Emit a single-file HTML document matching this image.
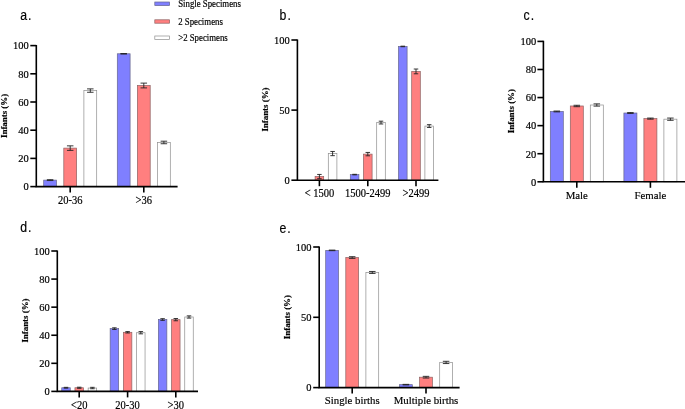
<!DOCTYPE html>
<html><head><meta charset="utf-8"><style>
html,body{margin:0;padding:0;background:#fff;}
body{width:685px;height:409px;overflow:hidden;}
svg{display:block;will-change:transform;}
text{font-family:"Liberation Serif",serif;fill:#000;stroke:#000;stroke-width:0.18px;}
.yt{font-size:10px;text-anchor:end;}
.xt{font-size:10.5px;text-anchor:middle;}
.yl{font-size:8.9px;font-weight:bold;}
.lg{font-size:8.8px;}
.pl{font-family:"Liberation Sans",sans-serif;font-size:15px;fill:#000;letter-spacing:1.3px;}
</style></head><body>
<svg width="685" height="409" viewBox="0 0 685 409">
<rect x="43.70" y="180.11" width="12.80" height="6.49" fill="#7f7fff" stroke="#66668c" stroke-width="0.7"/>
<rect x="63.80" y="148.11" width="12.80" height="38.49" fill="#ff7f7f" stroke="#8c6262" stroke-width="0.7"/>
<rect x="83.90" y="90.58" width="12.80" height="96.02" fill="#ffffff" stroke="#8e8e8e" stroke-width="0.7"/>
<rect x="117.30" y="53.78" width="12.80" height="132.82" fill="#7f7fff" stroke="#66668c" stroke-width="0.7"/>
<rect x="137.40" y="85.50" width="12.80" height="101.10" fill="#ff7f7f" stroke="#8c6262" stroke-width="0.7"/>
<rect x="157.50" y="142.47" width="12.80" height="44.13" fill="#ffffff" stroke="#8e8e8e" stroke-width="0.7"/>
<path d="M36.30 45.00V186.60H177.60" fill="none" stroke="#000" stroke-width="1.6" stroke-linejoin="miter"/>
<line x1="30.299999999999997" y1="186.60" x2="36.3" y2="186.60" stroke="#000" stroke-width="1.6"/>
<text transform="translate(28.70,190.40) scale(1.05,1.12)" class="yt">0</text>
<line x1="30.299999999999997" y1="158.40" x2="36.3" y2="158.40" stroke="#000" stroke-width="1.6"/>
<text transform="translate(28.70,162.20) scale(1.05,1.12)" class="yt">20</text>
<line x1="30.299999999999997" y1="130.20" x2="36.3" y2="130.20" stroke="#000" stroke-width="1.6"/>
<text transform="translate(28.70,134.00) scale(1.05,1.12)" class="yt">40</text>
<line x1="30.299999999999997" y1="102.00" x2="36.3" y2="102.00" stroke="#000" stroke-width="1.6"/>
<text transform="translate(28.70,105.80) scale(1.05,1.12)" class="yt">60</text>
<line x1="30.299999999999997" y1="73.80" x2="36.3" y2="73.80" stroke="#000" stroke-width="1.6"/>
<text transform="translate(28.70,77.60) scale(1.05,1.12)" class="yt">80</text>
<line x1="30.299999999999997" y1="45.60" x2="36.3" y2="45.60" stroke="#000" stroke-width="1.6"/>
<text transform="translate(28.70,49.40) scale(1.05,1.12)" class="yt">100</text>
<text transform="translate(7.0,138) rotate(-90)" class="yl">Infants (%)</text>
<line x1="70.2" y1="186.6" x2="70.2" y2="192.6" stroke="#000" stroke-width="1.6"/>
<text transform="translate(70.2,204.10) scale(1.0,1.14)" class="xt">20-36</text>
<line x1="143.8" y1="186.6" x2="143.8" y2="192.6" stroke="#000" stroke-width="1.6"/>
<text transform="translate(143.8,204.10) scale(1.0,1.14)" class="xt">&gt;36</text>
<path d="M50.10 179.69V180.54M46.85 179.69H53.35M46.85 180.54H53.35" stroke="#222" stroke-width="0.9" fill="none"/>
<path d="M70.20 145.85V150.36M66.95 145.85H73.45M66.95 150.36H73.45" stroke="#222" stroke-width="0.9" fill="none"/>
<path d="M90.30 88.89V92.27M87.05 88.89H93.55M87.05 92.27H93.55" stroke="#222" stroke-width="0.9" fill="none"/>
<path d="M123.70 53.50V54.06M120.45 53.50H126.95M120.45 54.06H126.95" stroke="#222" stroke-width="0.9" fill="none"/>
<path d="M143.80 83.11V87.90M140.55 83.11H147.05M140.55 87.90H147.05" stroke="#222" stroke-width="0.9" fill="none"/>
<path d="M163.90 141.20V143.74M160.65 141.20H167.15M160.65 143.74H167.15" stroke="#222" stroke-width="0.9" fill="none"/>
<text transform="translate(20.2,20) scale(0.82,0.93)" class="pl">a.</text>
<rect x="315.10" y="176.55" width="8.60" height="3.65" fill="#ff7f7f" stroke="#8c6262" stroke-width="0.7"/>
<rect x="328.30" y="153.56" width="8.60" height="26.64" fill="#ffffff" stroke="#8e8e8e" stroke-width="0.7"/>
<rect x="350.30" y="174.59" width="8.60" height="5.61" fill="#7f7fff" stroke="#66668c" stroke-width="0.7"/>
<rect x="363.50" y="154.12" width="8.60" height="26.08" fill="#ff7f7f" stroke="#8c6262" stroke-width="0.7"/>
<rect x="376.70" y="122.58" width="8.60" height="57.62" fill="#ffffff" stroke="#8e8e8e" stroke-width="0.7"/>
<rect x="398.50" y="46.45" width="8.60" height="133.75" fill="#7f7fff" stroke="#66668c" stroke-width="0.7"/>
<rect x="411.70" y="71.40" width="8.60" height="108.80" fill="#ff7f7f" stroke="#8c6262" stroke-width="0.7"/>
<rect x="424.90" y="126.08" width="8.60" height="54.12" fill="#ffffff" stroke="#8e8e8e" stroke-width="0.7"/>
<path d="M297.40 39.40V180.20H438.40" fill="none" stroke="#000" stroke-width="1.6" stroke-linejoin="miter"/>
<line x1="291.4" y1="180.20" x2="297.4" y2="180.20" stroke="#000" stroke-width="1.6"/>
<text transform="translate(289.80,184.00) scale(1.05,1.12)" class="yt">0</text>
<line x1="291.4" y1="110.10" x2="297.4" y2="110.10" stroke="#000" stroke-width="1.6"/>
<text transform="translate(289.80,113.90) scale(1.05,1.12)" class="yt">50</text>
<line x1="291.4" y1="40.00" x2="297.4" y2="40.00" stroke="#000" stroke-width="1.6"/>
<text transform="translate(289.80,43.80) scale(1.05,1.12)" class="yt">100</text>
<text transform="translate(268.4,131.6) rotate(-90)" class="yl">Infants (%)</text>
<line x1="319.4" y1="180.2" x2="319.4" y2="186.2" stroke="#000" stroke-width="1.6"/>
<text transform="translate(319.4,197.40) scale(1.0,1.14)" class="xt">&lt; 1500</text>
<line x1="367.8" y1="180.2" x2="367.8" y2="186.2" stroke="#000" stroke-width="1.6"/>
<text transform="translate(367.8,197.40) scale(1.0,1.14)" class="xt">1500-2499</text>
<line x1="416.0" y1="180.2" x2="416.0" y2="186.2" stroke="#000" stroke-width="1.6"/>
<text transform="translate(416.0,197.40) scale(1.0,1.14)" class="xt">&gt;2499</text>
<path d="M319.40 174.45V178.66M317.15 174.45H321.65M317.15 178.66H321.65" stroke="#222" stroke-width="0.9" fill="none"/>
<path d="M332.60 151.46V155.66M330.35 151.46H334.85M330.35 155.66H334.85" stroke="#222" stroke-width="0.9" fill="none"/>
<path d="M354.60 174.31V174.87M352.35 174.31H356.85M352.35 174.87H356.85" stroke="#222" stroke-width="0.9" fill="none"/>
<path d="M367.80 152.44V155.81M365.55 152.44H370.05M365.55 155.81H370.05" stroke="#222" stroke-width="0.9" fill="none"/>
<path d="M381.00 121.18V123.98M378.75 121.18H383.25M378.75 123.98H383.25" stroke="#222" stroke-width="0.9" fill="none"/>
<path d="M402.80 46.17V46.73M400.55 46.17H405.05M400.55 46.73H405.05" stroke="#222" stroke-width="0.9" fill="none"/>
<path d="M416.00 69.02V73.79M413.75 69.02H418.25M413.75 73.79H418.25" stroke="#222" stroke-width="0.9" fill="none"/>
<path d="M429.20 124.68V127.48M426.95 124.68H431.45M426.95 127.48H431.45" stroke="#222" stroke-width="0.9" fill="none"/>
<text transform="translate(279.6,20) scale(0.82,0.93)" class="pl">b.</text>
<rect x="550.30" y="111.46" width="13.00" height="70.34" fill="#7f7fff" stroke="#66668c" stroke-width="0.7"/>
<rect x="570.30" y="105.98" width="13.00" height="75.82" fill="#ff7f7f" stroke="#8c6262" stroke-width="0.7"/>
<rect x="590.30" y="105.00" width="13.00" height="76.80" fill="#ffffff" stroke="#8e8e8e" stroke-width="0.7"/>
<rect x="623.90" y="113.00" width="13.00" height="68.80" fill="#7f7fff" stroke="#66668c" stroke-width="0.7"/>
<rect x="643.90" y="118.62" width="13.00" height="63.18" fill="#ff7f7f" stroke="#8c6262" stroke-width="0.7"/>
<rect x="663.90" y="119.18" width="13.00" height="62.62" fill="#ffffff" stroke="#8e8e8e" stroke-width="0.7"/>
<path d="M543.40 40.80V181.80H685.00" fill="none" stroke="#000" stroke-width="1.6" stroke-linejoin="miter"/>
<line x1="537.4" y1="181.80" x2="543.4" y2="181.80" stroke="#000" stroke-width="1.6"/>
<text transform="translate(536.30,185.60) scale(1.05,1.12)" class="yt">0</text>
<line x1="537.4" y1="153.72" x2="543.4" y2="153.72" stroke="#000" stroke-width="1.6"/>
<text transform="translate(536.30,157.52) scale(1.05,1.12)" class="yt">20</text>
<line x1="537.4" y1="125.64" x2="543.4" y2="125.64" stroke="#000" stroke-width="1.6"/>
<text transform="translate(536.30,129.44) scale(1.05,1.12)" class="yt">40</text>
<line x1="537.4" y1="97.56" x2="543.4" y2="97.56" stroke="#000" stroke-width="1.6"/>
<text transform="translate(536.30,101.36) scale(1.05,1.12)" class="yt">60</text>
<line x1="537.4" y1="69.48" x2="543.4" y2="69.48" stroke="#000" stroke-width="1.6"/>
<text transform="translate(536.30,73.28) scale(1.05,1.12)" class="yt">80</text>
<line x1="537.4" y1="41.40" x2="543.4" y2="41.40" stroke="#000" stroke-width="1.6"/>
<text transform="translate(536.30,45.20) scale(1.05,1.12)" class="yt">100</text>
<text transform="translate(514.0,133.2) rotate(-90)" class="yl">Infants (%)</text>
<line x1="576.8" y1="181.8" x2="576.8" y2="187.8" stroke="#000" stroke-width="1.6"/>
<text x="576.8" y="198.70" class="xt" style="font-size:10.8px">Male</text>
<line x1="650.4" y1="181.8" x2="650.4" y2="187.8" stroke="#000" stroke-width="1.6"/>
<text x="650.4" y="198.70" class="xt" style="font-size:10.8px">Female</text>
<path d="M556.80 111.04V111.88M553.55 111.04H560.05M553.55 111.88H560.05" stroke="#222" stroke-width="0.9" fill="none"/>
<path d="M576.80 105.28V106.69M573.55 105.28H580.05M573.55 106.69H580.05" stroke="#222" stroke-width="0.9" fill="none"/>
<path d="M596.80 103.88V106.12M593.55 103.88H600.05M593.55 106.12H600.05" stroke="#222" stroke-width="0.9" fill="none"/>
<path d="M630.40 112.58V113.43M627.15 112.58H633.65M627.15 113.43H633.65" stroke="#222" stroke-width="0.9" fill="none"/>
<path d="M650.40 118.06V119.18M647.15 118.06H653.65M647.15 119.18H653.65" stroke="#222" stroke-width="0.9" fill="none"/>
<path d="M670.40 118.06V120.30M667.15 118.06H673.65M667.15 120.30H673.65" stroke="#222" stroke-width="0.9" fill="none"/>
<text transform="translate(523.6,20) scale(0.82,0.93)" class="pl">c.</text>
<rect x="61.75" y="387.75" width="8.50" height="3.65" fill="#7f7fff" stroke="#66668c" stroke-width="0.7"/>
<rect x="74.95" y="387.75" width="8.50" height="3.65" fill="#ff7f7f" stroke="#8c6262" stroke-width="0.7"/>
<rect x="88.15" y="388.03" width="8.50" height="3.37" fill="#ffffff" stroke="#8e8e8e" stroke-width="0.7"/>
<rect x="110.15" y="328.64" width="8.50" height="62.76" fill="#7f7fff" stroke="#66668c" stroke-width="0.7"/>
<rect x="123.35" y="332.29" width="8.50" height="59.11" fill="#ff7f7f" stroke="#8c6262" stroke-width="0.7"/>
<rect x="136.55" y="332.71" width="8.50" height="58.69" fill="#ffffff" stroke="#8e8e8e" stroke-width="0.7"/>
<rect x="158.35" y="319.52" width="8.50" height="71.88" fill="#7f7fff" stroke="#66668c" stroke-width="0.7"/>
<rect x="171.55" y="319.66" width="8.50" height="71.74" fill="#ff7f7f" stroke="#8c6262" stroke-width="0.7"/>
<rect x="184.75" y="316.99" width="8.50" height="74.41" fill="#ffffff" stroke="#8e8e8e" stroke-width="0.7"/>
<path d="M57.30 250.40V391.40H198.00" fill="none" stroke="#000" stroke-width="1.6" stroke-linejoin="miter"/>
<line x1="51.3" y1="391.40" x2="57.3" y2="391.40" stroke="#000" stroke-width="1.6"/>
<text transform="translate(49.70,395.20) scale(1.05,1.12)" class="yt">0</text>
<line x1="51.3" y1="363.32" x2="57.3" y2="363.32" stroke="#000" stroke-width="1.6"/>
<text transform="translate(49.70,367.12) scale(1.05,1.12)" class="yt">20</text>
<line x1="51.3" y1="335.24" x2="57.3" y2="335.24" stroke="#000" stroke-width="1.6"/>
<text transform="translate(49.70,339.04) scale(1.05,1.12)" class="yt">40</text>
<line x1="51.3" y1="307.16" x2="57.3" y2="307.16" stroke="#000" stroke-width="1.6"/>
<text transform="translate(49.70,310.96) scale(1.05,1.12)" class="yt">60</text>
<line x1="51.3" y1="279.08" x2="57.3" y2="279.08" stroke="#000" stroke-width="1.6"/>
<text transform="translate(49.70,282.88) scale(1.05,1.12)" class="yt">80</text>
<line x1="51.3" y1="251.00" x2="57.3" y2="251.00" stroke="#000" stroke-width="1.6"/>
<text transform="translate(49.70,254.80) scale(1.05,1.12)" class="yt">100</text>
<text transform="translate(28.2,342.6) rotate(-90)" class="yl">Infants (%)</text>
<line x1="79.2" y1="391.4" x2="79.2" y2="397.4" stroke="#000" stroke-width="1.6"/>
<text transform="translate(79.2,409.10) scale(1.0,1.14)" class="xt">&lt;20</text>
<line x1="127.6" y1="391.4" x2="127.6" y2="397.4" stroke="#000" stroke-width="1.6"/>
<text transform="translate(127.6,409.10) scale(1.0,1.14)" class="xt">20-30</text>
<line x1="175.8" y1="391.4" x2="175.8" y2="397.4" stroke="#000" stroke-width="1.6"/>
<text transform="translate(175.8,409.10) scale(1.0,1.14)" class="xt">&gt;30</text>
<path d="M66.00 387.33V388.17M63.75 387.33H68.25M63.75 388.17H68.25" stroke="#222" stroke-width="0.9" fill="none"/>
<path d="M79.20 387.19V388.31M76.95 387.19H81.45M76.95 388.31H81.45" stroke="#222" stroke-width="0.9" fill="none"/>
<path d="M92.40 387.33V388.73M90.15 387.33H94.65M90.15 388.73H94.65" stroke="#222" stroke-width="0.9" fill="none"/>
<path d="M114.40 327.80V329.48M112.15 327.80H116.65M112.15 329.48H116.65" stroke="#222" stroke-width="0.9" fill="none"/>
<path d="M127.60 331.59V332.99M125.35 331.59H129.85M125.35 332.99H129.85" stroke="#222" stroke-width="0.9" fill="none"/>
<path d="M140.80 331.59V333.84M138.55 331.59H143.05M138.55 333.84H143.05" stroke="#222" stroke-width="0.9" fill="none"/>
<path d="M162.60 318.67V320.36M160.35 318.67H164.85M160.35 320.36H164.85" stroke="#222" stroke-width="0.9" fill="none"/>
<path d="M175.80 318.53V320.78M173.55 318.53H178.05M173.55 320.78H178.05" stroke="#222" stroke-width="0.9" fill="none"/>
<path d="M189.00 315.86V318.11M186.75 315.86H191.25M186.75 318.11H191.25" stroke="#222" stroke-width="0.9" fill="none"/>
<text transform="translate(20.2,232) scale(0.82,0.93)" class="pl">d.</text>
<rect x="325.70" y="250.37" width="12.80" height="137.23" fill="#7f7fff" stroke="#66668c" stroke-width="0.7"/>
<rect x="345.80" y="257.55" width="12.80" height="130.06" fill="#ff7f7f" stroke="#8c6262" stroke-width="0.7"/>
<rect x="365.90" y="272.45" width="12.80" height="115.15" fill="#ffffff" stroke="#8e8e8e" stroke-width="0.7"/>
<rect x="399.50" y="384.65" width="12.80" height="2.95" fill="#7f7fff" stroke="#66668c" stroke-width="0.7"/>
<rect x="419.60" y="377.20" width="12.80" height="10.40" fill="#ff7f7f" stroke="#8c6262" stroke-width="0.7"/>
<rect x="439.70" y="362.43" width="12.80" height="25.17" fill="#ffffff" stroke="#8e8e8e" stroke-width="0.7"/>
<path d="M319.20 246.40V387.60H459.60" fill="none" stroke="#000" stroke-width="1.6" stroke-linejoin="miter"/>
<line x1="313.2" y1="387.60" x2="319.2" y2="387.60" stroke="#000" stroke-width="1.6"/>
<text transform="translate(311.60,391.40) scale(1.05,1.12)" class="yt">0</text>
<line x1="313.2" y1="317.30" x2="319.2" y2="317.30" stroke="#000" stroke-width="1.6"/>
<text transform="translate(311.60,321.10) scale(1.05,1.12)" class="yt">50</text>
<line x1="313.2" y1="247.00" x2="319.2" y2="247.00" stroke="#000" stroke-width="1.6"/>
<text transform="translate(311.60,250.80) scale(1.05,1.12)" class="yt">100</text>
<text transform="translate(290.2,339.2) rotate(-90)" class="yl">Infants (%)</text>
<line x1="352.2" y1="387.6" x2="352.2" y2="393.6" stroke="#000" stroke-width="1.6"/>
<text x="352.2" y="404.00" class="xt" style="font-size:10.8px">Single births</text>
<line x1="426.0" y1="387.6" x2="426.0" y2="393.6" stroke="#000" stroke-width="1.6"/>
<text x="426.0" y="404.00" class="xt" style="font-size:10.8px">Multiple births</text>
<path d="M332.10 250.09V250.66M328.85 250.09H335.35M328.85 250.66H335.35" stroke="#222" stroke-width="0.9" fill="none"/>
<path d="M352.20 256.70V258.39M348.95 256.70H355.45M348.95 258.39H355.45" stroke="#222" stroke-width="0.9" fill="none"/>
<path d="M372.30 271.46V273.43M369.05 271.46H375.55M369.05 273.43H375.55" stroke="#222" stroke-width="0.9" fill="none"/>
<path d="M405.90 384.37V384.93M402.65 384.37H409.15M402.65 384.93H409.15" stroke="#222" stroke-width="0.9" fill="none"/>
<path d="M426.00 376.35V378.04M422.75 376.35H429.25M422.75 378.04H429.25" stroke="#222" stroke-width="0.9" fill="none"/>
<path d="M446.10 361.31V363.56M442.85 361.31H449.35M442.85 363.56H449.35" stroke="#222" stroke-width="0.9" fill="none"/>
<text transform="translate(279.4,232.5) scale(0.82,0.93)" class="pl">e.</text>
<rect x="154.8" y="2.0" width="14.8" height="3.6" fill="#7f7fff" stroke="#66668c" stroke-width="0.7"/>
<text transform="translate(178.2,7.0) scale(1,1.08)" class="lg">Single Specimens</text>
<rect x="154.8" y="19.8" width="14.8" height="3.4" fill="#ff7f7f" stroke="#8c6262" stroke-width="0.7"/>
<text transform="translate(178.2,24.5) scale(1,1.08)" class="lg">2 Specimens</text>
<rect x="154.8" y="36.0" width="14.8" height="3.6" fill="#ffffff" stroke="#8e8e8e" stroke-width="0.7"/>
<text transform="translate(178.2,40.5) scale(1,1.08)" class="lg">&gt;2 Specimens</text>
</svg>
</body></html>
